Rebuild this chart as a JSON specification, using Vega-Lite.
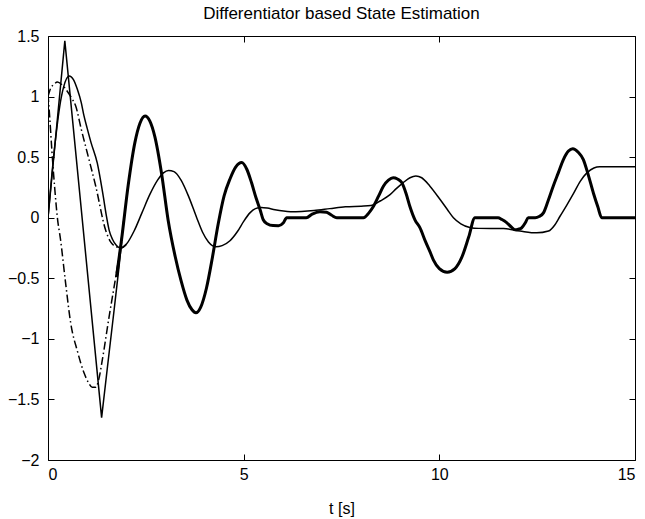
{
  "$schema": "https://vega.github.io/schema/vega-lite/v6.json",
  "width": 587,
  "height": 424,
  "autosize": {"type": "none"},
  "padding": {"left": 48, "top": 36, "right": 10, "bottom": 59},
  "title": {"text": "Differentiator based State Estimation", "font": "Liberation Sans", "fontSize": 17, "fontWeight": "normal", "color": "black", "offset": 5},
  "config": {
    "view": {"stroke": "black", "strokeWidth": 1},
    "axis": {"grid": false, "domain": false, "tickColor": "black", "tickSize": -6, "labelFont": "Liberation Sans", "labelFontSize": 16, "labelColor": "black", "titleFont": "Liberation Sans", "titleFontSize": 16, "titleFontWeight": "normal", "titleColor": "black"}
  },
  "datasets": {
    "thin": [
      {"s": "x1", "t": 0, "y": 0}, {"s": "x1", "t": 0.1, "y": 0.36}, {"s": "x1", "t": 0.2, "y": 0.67}, {"s": "x1", "t": 0.3, "y": 0.92}, {"s": "x1", "t": 0.4, "y": 1.08}, {"s": "x1", "t": 0.54, "y": 1.17}, {"s": "x1", "t": 0.65, "y": 1.14}, {"s": "x1", "t": 0.75, "y": 1.06}, {"s": "x1", "t": 0.85, "y": 0.95}, {"s": "x1", "t": 0.92, "y": 0.84}, {"s": "x1", "t": 1.0, "y": 0.74}, {"s": "x1", "t": 1.1, "y": 0.62}, {"s": "x1", "t": 1.26, "y": 0.45}, {"s": "x1", "t": 1.4, "y": 0.2}, {"s": "x1", "t": 1.5, "y": 0.0}, {"s": "x1", "t": 1.56, "y": -0.1}, {"s": "x1", "t": 1.65, "y": -0.18}, {"s": "x1", "t": 1.75, "y": -0.23}, {"s": "x1", "t": 1.86, "y": -0.25}, {"s": "x1", "t": 2.0, "y": -0.22}, {"s": "x1", "t": 2.2, "y": -0.11}, {"s": "x1", "t": 2.4, "y": 0.04}, {"s": "x1", "t": 2.6, "y": 0.19}, {"s": "x1", "t": 2.8, "y": 0.31}, {"s": "x1", "t": 2.95, "y": 0.37}, {"s": "x1", "t": 3.08, "y": 0.39}, {"s": "x1", "t": 3.22, "y": 0.38}, {"s": "x1", "t": 3.4, "y": 0.31}, {"s": "x1", "t": 3.6, "y": 0.17}, {"s": "x1", "t": 3.8, "y": 0.0}, {"s": "x1", "t": 3.95, "y": -0.12}, {"s": "x1", "t": 4.1, "y": -0.2}, {"s": "x1", "t": 4.29, "y": -0.24}, {"s": "x1", "t": 4.45, "y": -0.23}, {"s": "x1", "t": 4.65, "y": -0.19}, {"s": "x1", "t": 4.85, "y": -0.11}, {"s": "x1", "t": 5.0, "y": -0.03}, {"s": "x1", "t": 5.16, "y": 0.04}, {"s": "x1", "t": 5.3, "y": 0.075}, {"s": "x1", "t": 5.45, "y": 0.085}, {"s": "x1", "t": 5.6, "y": 0.08}, {"s": "x1", "t": 5.8, "y": 0.065}, {"s": "x1", "t": 6.2, "y": 0.05}, {"s": "x1", "t": 6.8, "y": 0.06}, {"s": "x1", "t": 7.2, "y": 0.075}, {"s": "x1", "t": 7.6, "y": 0.09}, {"s": "x1", "t": 8.0, "y": 0.095}, {"s": "x1", "t": 8.25, "y": 0.1}, {"s": "x1", "t": 8.5, "y": 0.14}, {"s": "x1", "t": 8.74, "y": 0.19}, {"s": "x1", "t": 8.9, "y": 0.24}, {"s": "x1", "t": 9.08, "y": 0.29}, {"s": "x1", "t": 9.25, "y": 0.33}, {"s": "x1", "t": 9.4, "y": 0.345}, {"s": "x1", "t": 9.55, "y": 0.33}, {"s": "x1", "t": 9.76, "y": 0.26}, {"s": "x1", "t": 10.02, "y": 0.15}, {"s": "x1", "t": 10.2, "y": 0.07}, {"s": "x1", "t": 10.36, "y": 0.0}, {"s": "x1", "t": 10.55, "y": -0.05}, {"s": "x1", "t": 10.78, "y": -0.08}, {"s": "x1", "t": 11.0, "y": -0.088}, {"s": "x1", "t": 11.64, "y": -0.09}, {"s": "x1", "t": 12.06, "y": -0.11}, {"s": "x1", "t": 12.49, "y": -0.125}, {"s": "x1", "t": 12.79, "y": -0.11}, {"s": "x1", "t": 12.95, "y": -0.06}, {"s": "x1", "t": 13.08, "y": 0.01}, {"s": "x1", "t": 13.25, "y": 0.1}, {"s": "x1", "t": 13.43, "y": 0.2}, {"s": "x1", "t": 13.6, "y": 0.3}, {"s": "x1", "t": 13.77, "y": 0.37}, {"s": "x1", "t": 13.95, "y": 0.41}, {"s": "x1", "t": 14.1, "y": 0.42}, {"s": "x1", "t": 14.5, "y": 0.42}, {"s": "x1", "t": 15, "y": 0.42}
    ],
    "sharp": [
      {"t": 0, "y": 0}, {"t": 0.43, "y": 1.46}, {"t": 1.37, "y": -1.65}, {"t": 1.52, "y": -1.23}, {"t": 1.69, "y": -0.76}, {"t": 1.81, "y": -0.42}, {"t": 1.88, "y": -0.2}
    ],
    "thick": [
      {"t": 1.75, "y": -0.49}, {"t": 1.88, "y": -0.18}, {"t": 2.05, "y": 0.27}, {"t": 2.22, "y": 0.62}, {"t": 2.35, "y": 0.78}, {"t": 2.48, "y": 0.84}, {"t": 2.6, "y": 0.8}, {"t": 2.73, "y": 0.67}, {"t": 2.9, "y": 0.37}, {"t": 3.07, "y": -0.02}, {"t": 3.25, "y": -0.32}, {"t": 3.4, "y": -0.52}, {"t": 3.55, "y": -0.68}, {"t": 3.68, "y": -0.76}, {"t": 3.78, "y": -0.785}, {"t": 3.9, "y": -0.74}, {"t": 4.05, "y": -0.58}, {"t": 4.2, "y": -0.33}, {"t": 4.35, "y": -0.05}, {"t": 4.5, "y": 0.18}, {"t": 4.65, "y": 0.32}, {"t": 4.8, "y": 0.42}, {"t": 4.95, "y": 0.455}, {"t": 5.08, "y": 0.4}, {"t": 5.2, "y": 0.29}, {"t": 5.32, "y": 0.16}, {"t": 5.42, "y": 0.066}, {"t": 5.5, "y": -0.017}, {"t": 5.6, "y": -0.05}, {"t": 5.75, "y": -0.065}, {"t": 5.89, "y": -0.066}, {"t": 6.01, "y": -0.044}, {"t": 6.1, "y": 0}, {"t": 6.6, "y": 0}, {"t": 6.75, "y": 0.03}, {"t": 6.95, "y": 0.05}, {"t": 7.12, "y": 0.045}, {"t": 7.25, "y": 0.02}, {"t": 7.38, "y": 0}, {"t": 8.06, "y": 0}, {"t": 8.2, "y": 0.04}, {"t": 8.31, "y": 0.09}, {"t": 8.45, "y": 0.18}, {"t": 8.57, "y": 0.26}, {"t": 8.7, "y": 0.31}, {"t": 8.82, "y": 0.33}, {"t": 8.93, "y": 0.32}, {"t": 9.04, "y": 0.29}, {"t": 9.15, "y": 0.2}, {"t": 9.25, "y": 0.09}, {"t": 9.38, "y": -0.02}, {"t": 9.5, "y": -0.08}, {"t": 9.65, "y": -0.2}, {"t": 9.76, "y": -0.28}, {"t": 9.85, "y": -0.35}, {"t": 10.0, "y": -0.42}, {"t": 10.2, "y": -0.45}, {"t": 10.4, "y": -0.42}, {"t": 10.57, "y": -0.33}, {"t": 10.75, "y": -0.16}, {"t": 10.91, "y": 0}, {"t": 11.5, "y": 0}, {"t": 11.6, "y": -0.015}, {"t": 11.72, "y": -0.04}, {"t": 11.85, "y": -0.08}, {"t": 11.93, "y": -0.1}, {"t": 12.02, "y": -0.095}, {"t": 12.1, "y": -0.085}, {"t": 12.2, "y": -0.04}, {"t": 12.27, "y": 0}, {"t": 12.45, "y": 0}, {"t": 12.55, "y": 0.01}, {"t": 12.66, "y": 0.04}, {"t": 12.78, "y": 0.14}, {"t": 12.91, "y": 0.26}, {"t": 13.04, "y": 0.37}, {"t": 13.17, "y": 0.48}, {"t": 13.3, "y": 0.55}, {"t": 13.41, "y": 0.57}, {"t": 13.55, "y": 0.54}, {"t": 13.68, "y": 0.48}, {"t": 13.8, "y": 0.36}, {"t": 13.94, "y": 0.2}, {"t": 14.05, "y": 0.09}, {"t": 14.15, "y": 0}, {"t": 15, "y": 0}
    ],
    "dashdot": [
      {"s": "x1hat", "t": 0, "y": 1.0}, {"s": "x1hat", "t": 0.07, "y": 1.07}, {"s": "x1hat", "t": 0.15, "y": 1.1}, {"s": "x1hat", "t": 0.24, "y": 1.12}, {"s": "x1hat", "t": 0.35, "y": 1.1}, {"s": "x1hat", "t": 0.5, "y": 1.04}, {"s": "x1hat", "t": 0.6, "y": 0.99}, {"s": "x1hat", "t": 0.71, "y": 0.92}, {"s": "x1hat", "t": 0.85, "y": 0.73}, {"s": "x1hat", "t": 1.0, "y": 0.54}, {"s": "x1hat", "t": 1.22, "y": 0.26}, {"s": "x1hat", "t": 1.47, "y": -0.1}, {"s": "x1hat", "t": 1.6, "y": -0.2}, {"s": "x1hat", "t": 1.75, "y": -0.24}, {"s": "x1hat", "t": 1.86, "y": -0.25}, {"s": "x1hat", "t": 2.0, "y": -0.22},
      {"s": "x2hat", "t": 0, "y": 1.02}, {"s": "x2hat", "t": 0.05, "y": 0.8}, {"s": "x2hat", "t": 0.1, "y": 0.55}, {"s": "x2hat", "t": 0.17, "y": 0.25}, {"s": "x2hat", "t": 0.24, "y": 0.0}, {"s": "x2hat", "t": 0.32, "y": -0.18}, {"s": "x2hat", "t": 0.45, "y": -0.54}, {"s": "x2hat", "t": 0.58, "y": -0.87}, {"s": "x2hat", "t": 0.75, "y": -1.1}, {"s": "x2hat", "t": 0.92, "y": -1.28}, {"s": "x2hat", "t": 1.05, "y": -1.37}, {"s": "x2hat", "t": 1.13, "y": -1.4}, {"s": "x2hat", "t": 1.22, "y": -1.4}, {"s": "x2hat", "t": 1.3, "y": -1.33}, {"s": "x2hat", "t": 1.39, "y": -1.17}, {"s": "x2hat", "t": 1.56, "y": -0.82}, {"s": "x2hat", "t": 1.73, "y": -0.49}, {"s": "x2hat", "t": 1.86, "y": -0.22}, {"s": "x2hat", "t": 1.95, "y": 0.02}
    ]
  },
  "resolve": {"axis": {"x": "independent", "y": "independent"}},
  "layer": [
    {
      "data": {"name": "thin"},
      "mark": {"type": "line", "color": "black", "strokeWidth": 1.5, "interpolate": "monotone", "clip": true},
      "encoding": {
        "x": {"field": "t", "type": "quantitative", "scale": {"domain": [0, 15], "nice": false, "zero": false}, "axis": {"orient": "bottom", "values": [0, 5, 10, 15], "title": "t [s]", "labelPadding": 12, "titlePadding": 18}},
        "y": {"field": "y", "type": "quantitative", "scale": {"domain": [-2, 1.5], "nice": false, "zero": false}, "axis": {"orient": "left", "values": [-2, -1.5, -1, -0.5, 0, 0.5, 1, 1.5], "format": "~g", "title": null, "labelPadding": 15}},
        "detail": {"field": "s"}
      }
    },
    {
      "data": {"name": "thick"},
      "mark": {"type": "line", "color": "black", "strokeWidth": 3, "interpolate": "monotone", "clip": true},
      "encoding": {
        "x": {"field": "t", "type": "quantitative", "scale": {"domain": [0, 15], "nice": false, "zero": false}, "axis": {"orient": "top", "values": [0, 5, 10, 15], "labels": false, "title": null}},
        "y": {"field": "y", "type": "quantitative", "scale": {"domain": [-2, 1.5], "nice": false, "zero": false}, "axis": {"orient": "right", "values": [-2, -1.5, -1, -0.5, 0, 0.5, 1, 1.5], "labels": false, "title": null}}
      }
    },
    {
      "data": {"name": "sharp"},
      "mark": {"type": "line", "color": "black", "strokeWidth": 1.5, "clip": true},
      "encoding": {
        "x": {"field": "t", "type": "quantitative", "scale": {"domain": [0, 15], "nice": false, "zero": false}, "axis": null},
        "y": {"field": "y", "type": "quantitative", "scale": {"domain": [-2, 1.5], "nice": false, "zero": false}, "axis": null}
      }
    },
    {
      "data": {"name": "dashdot"},
      "mark": {"type": "line", "color": "black", "strokeWidth": 1.5, "strokeDash": [8, 3, 1.5, 3], "interpolate": "monotone", "clip": true},
      "encoding": {
        "x": {"field": "t", "type": "quantitative", "scale": {"domain": [0, 15], "nice": false, "zero": false}, "axis": null},
        "y": {"field": "y", "type": "quantitative", "scale": {"domain": [-2, 1.5], "nice": false, "zero": false}, "axis": null},
        "detail": {"field": "s"}
      }
    }
  ]
}
